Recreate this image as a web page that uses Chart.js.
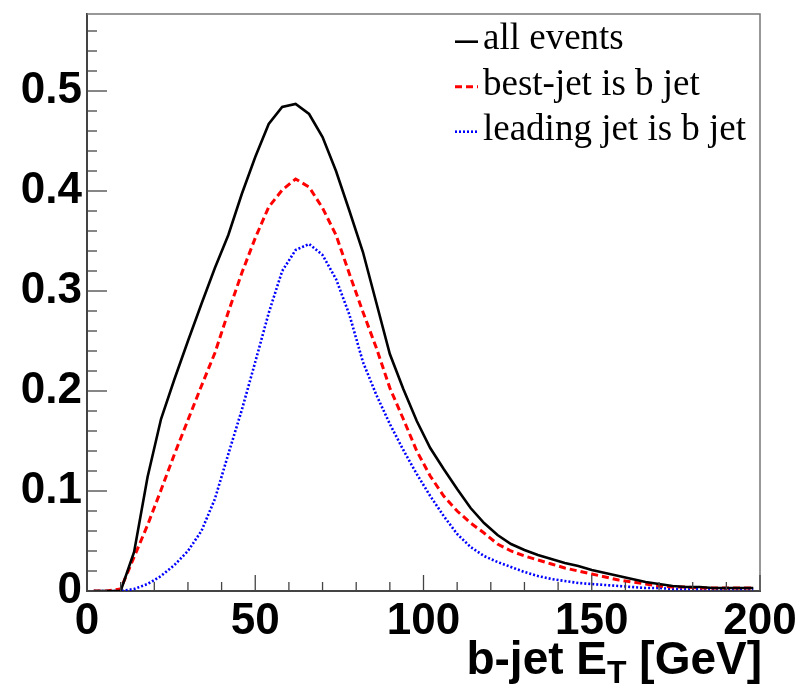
<!DOCTYPE html>
<html>
<head>
<meta charset="utf-8">
<script src="https://cdn.jsdelivr.net/npm/chart.js@4/dist/chart.umd.min.js"></script>
<style>
html,body{margin:0;padding:0;background:#fff;}
canvas{display:block;}
</style>
</head>
<body>
<canvas id="c" width="804" height="691"></canvas>
<script>
// bin centres (GeV)
const etBins = [2,6,10,14,18,22,26,30,34,38,42,46,50,54,58,62,66,70,74,78,82,86,90,94,98,
  102,106,110,114,118,122,126,130,134,138,142,146,150,154,158,162,166,170,174,178,182,186,190,194,198];
const allEvents = [0,0,0,0.039,0.114,0.172,0.212,0.250,0.287,0.323,0.356,0.397,0.434,0.467,0.484,0.487,0.477,0.454,0.420,0.380,0.339,0.288,0.237,0.202,0.170,
  0.143,0.122,0.102,0.083,0.068,0.056,0.047,0.041,0.036,0.032,0.028,0.025,0.021,0.018,0.015,0.012,0.009,0.007,0.005,0.004,0.004,0.003,0.003,0.003,0.003];
const bestJetB = [0,0,0.002,0.034,0.066,0.101,0.137,0.171,0.205,0.238,0.279,0.318,0.353,0.384,0.401,0.412,0.404,0.383,0.356,0.317,0.279,0.243,0.203,0.172,0.140,
  0.115,0.095,0.080,0.068,0.058,0.047,0.040,0.035,0.031,0.027,0.023,0.020,0.017,0.014,0.011,0.009,0.007,0.005,0.004,0.004,0.003,0.003,0.003,0.003,0.003];
const leadingJetB = [0,0,0,0.002,0.007,0.015,0.026,0.040,0.060,0.092,0.137,0.181,0.229,0.278,0.320,0.341,0.347,0.336,0.312,0.276,0.229,0.196,0.167,0.141,0.117,
  0.095,0.075,0.057,0.044,0.035,0.029,0.024,0.019,0.015,0.012,0.010,0.008,0.007,0.006,0.005,0.004,0.003,0.003,0.002,0.002,0.002,0.002,0.002,0.002,0.002];
const seriesNames = ['all events','best-jet is b jet','leading jet is b jet'];
const xTicks = [0,50,100,150,200];
const xTickLabels = ['0','50','100','150','200'];
const yTicks = [0,0.1,0.2,0.3,0.4,0.5];
const yTickLabels = ['0','0.1','0.2','0.3','0.4','0.5'];
const xMinorStep = 10;
const yMinorStep = 0.02;
const axisTitleMain = 'b-jet E';
const axisTitleSub = 'T';
const axisTitleUnit = ' [GeV]';

const toXY = arr => etBins.map((x,i)=>({x:x,y:arr[i]}));

const frameAndTicks = {
  id:'frameAndTicks',
  afterDatasetsDraw(chart){
    const ctx = chart.ctx, a = chart.chartArea;
    const xs = chart.scales.x, ys = chart.scales.y;
    ctx.save();
    ctx.strokeStyle = '#777';
    ctx.lineWidth = 1.5;
    ctx.beginPath();
    ctx.moveTo(a.left, a.top); ctx.lineTo(a.right, a.top); ctx.lineTo(a.right, a.bottom);
    ctx.stroke();
    ctx.strokeStyle = '#444';
    ctx.lineWidth = 1.3;
    for (let v = xs.min; v <= xs.max + 1e-9; v += xMinorStep) {
      const px = xs.getPixelForValue(v);
      const major = xTicks.some(t => Math.abs(t - v) < 1e-6);
      const len = major ? 16 : 9;
      ctx.beginPath(); ctx.moveTo(px, a.bottom); ctx.lineTo(px, a.bottom - len); ctx.stroke();
    }
    for (let v = ys.min; v <= ys.max + 1e-9; v += yMinorStep) {
      const py = ys.getPixelForValue(v);
      const major = yTicks.some(t => Math.abs(t - v) < 1e-6);
      const len = major ? 20 : 10;
      ctx.beginPath(); ctx.moveTo(a.left, py); ctx.lineTo(a.left + len, py); ctx.stroke();
    }
    ctx.restore();
  },
  afterDraw(chart){
    const ctx = chart.ctx;
    ctx.save();
    ctx.font = '37px "Liberation Serif", "Times New Roman", serif';
    ctx.textBaseline = 'alphabetic';
    chart.data.datasets.forEach((ds,i)=>{
      const ly = 41.7 + i*45;
      ctx.strokeStyle = ds.borderColor;
      ctx.lineWidth = ds.borderWidth;
      ctx.setLineDash(ds.borderDash || []);
      ctx.beginPath(); ctx.moveTo(455, ly); ctx.lineTo(478, ly); ctx.stroke();
      ctx.setLineDash([]);
      ctx.fillStyle = '#000';
      ctx.fillText(ds.label, 483, 49 + i*45.5);
    });
    ctx.restore();
    ctx.save();
    const big = 'bold 46px "Liberation Sans", Arial, sans-serif';
    const small = 'bold 32px "Liberation Sans", Arial, sans-serif';
    ctx.fillStyle = '#000';
    ctx.textBaseline = 'alphabetic';
    ctx.font = big; const w1 = ctx.measureText(axisTitleMain).width; const w3 = ctx.measureText(axisTitleUnit).width;
    ctx.font = small; const w2 = ctx.measureText(axisTitleSub).width;
    const right = 762, base = 674;
    let x0 = right - (w1 + w2 + w3);
    ctx.font = big; ctx.fillText(axisTitleMain, x0, base);
    ctx.font = small; ctx.fillText(axisTitleSub, x0 + w1, base + 9);
    ctx.font = big; ctx.fillText(axisTitleUnit, x0 + w1 + w2, base);
    ctx.restore();
  }
};

new Chart(document.getElementById('c'), {
  type:'line',
  data:{
    datasets:[
      {label:seriesNames[0], data:toXY(allEvents), borderColor:'#000000', borderWidth:2.6, pointRadius:0, tension:0, fill:false},
      {label:seriesNames[1], data:toXY(bestJetB), borderColor:'#ff0000', borderWidth:3, borderDash:[7,4], pointRadius:0, tension:0, fill:false},
      {label:seriesNames[2], data:toXY(leadingJetB), borderColor:'#0000ff', borderWidth:2.6, borderDash:[2,2], pointRadius:0, tension:0, fill:false}
    ]
  },
  options:{
    responsive:false,
    animation:false,
    layout:{padding:{left:0, top:14, right:44, bottom:0}},
    plugins:{legend:{display:false}, tooltip:{enabled:false}},
    scales:{
      x:{
        type:'linear', min:0, max:200,
        afterFit(s){ s.height = 100; s.paddingLeft = 0; s.paddingRight = 0; },
        afterBuildTicks(s){ s.ticks = xTicks.map(v=>({value:v})); },
        grid:{display:false, drawTicks:false},
        border:{display:true, color:'#444', width:2},
        ticks:{
          padding:4, color:'#000', maxRotation:0, autoSkip:false,
          font:{family:'"Liberation Sans", Arial, sans-serif', size:44, weight:'bold'},
          callback:(v)=>{ const i = xTicks.indexOf(v); return i>=0 ? xTickLabels[i] : ''; }
        }
      },
      y:{
        type:'linear', min:0, max:0.577,
        afterFit(s){ s.width = 87; s.paddingTop = 0; s.paddingBottom = 0; },
        afterBuildTicks(s){ s.ticks = yTicks.map(v=>({value:v})); },
        grid:{display:false, drawTicks:false},
        border:{display:true, color:'#444', width:2},
        ticks:{
          padding:5, color:'#000', autoSkip:false,
          font:{family:'"Liberation Sans", Arial, sans-serif', size:44, weight:'bold'},
          callback:(v)=>{ const i = yTicks.findIndex(t=>Math.abs(t-v)<1e-9); return i>=0 ? yTickLabels[i] : ''; }
        }
      }
    }
  },
  plugins:[frameAndTicks]
});
</script>
</body>
</html>
